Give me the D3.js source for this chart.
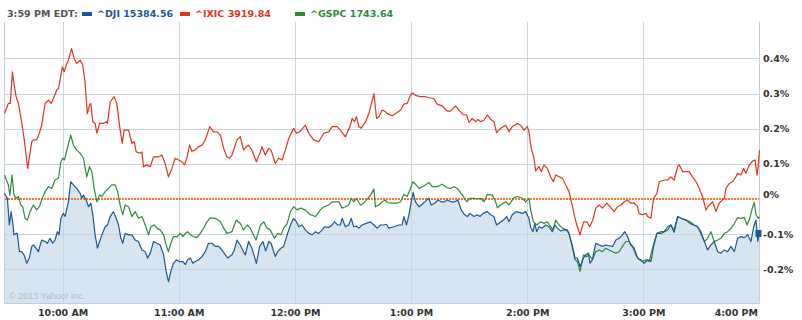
<!DOCTYPE html>
<html>
<head>
<meta charset="utf-8">
<script src="https://cdn.jsdelivr.net/npm/d3@7"></script>
<style>
  body { margin: 0; background: #fff; }
  svg { display: block; }
</style>
</head>
<body>
<svg id="chart"></svg>
<script>
// minutes after 9:30 AM, % change from previous close
const dji = [[0,0.016],[1.5,0.002],[2.5,-0.074],[3.4,-0.036],[4.2,-0.065],[4.9,-0.102],[6.0,-0.098],[6.6,-0.098],[7.7,-0.150],[8.9,-0.150],[10.1,-0.159],[11.5,-0.183],[12.8,-0.168],[14.1,-0.135],[14.9,-0.131],[16.3,-0.140],[17.5,-0.150],[19.2,-0.117],[21.0,-0.121],[22.2,-0.126],[23.5,-0.112],[24.9,-0.126],[26.1,-0.117],[27.3,-0.093],[28.2,-0.102],[29.1,-0.055],[30.4,-0.041],[31.3,-0.050],[33.0,-0.008],[34.2,0.049],[35.6,0.040],[37.3,0.030],[39.1,0.016],[39.9,0.002],[40.8,0.011],[42.2,-0.003],[43.4,-0.022],[44.6,-0.012],[45.6,-0.045],[46.8,-0.102],[48.0,-0.140],[49.1,-0.121],[50.3,-0.102],[52.0,-0.079],[53.2,-0.074],[54.6,-0.050],[56.3,-0.036],[57.7,-0.055],[58.9,-0.074],[60.1,-0.112],[61.1,-0.126],[62.3,-0.098],[64.1,-0.102],[65.8,-0.102],[67.5,-0.117],[69.2,-0.121],[71.0,-0.145],[72.7,-0.150],[73.9,-0.168],[75.3,-0.154],[77.0,-0.121],[78.7,-0.126],[80.4,-0.131],[82.2,-0.159],[83.5,-0.206],[84.7,-0.235],[85.9,-0.206],[87.3,-0.183],[88.7,-0.173],[90.4,-0.178],[92.2,-0.178],[93.4,-0.187],[94.6,-0.173],[96.0,-0.168],[97.3,-0.183],[98.5,-0.178],
  [100.3,-0.173],[102.0,-0.164],[103.7,-0.150],[105.4,-0.126],[107.2,-0.126],[108.9,-0.135],[110.6,-0.135],[112.3,-0.145],[114.1,-0.159],[115.3,-0.168],[117.5,-0.159],[118.7,-0.145],[120.1,-0.117],[121.8,-0.131],[123.5,-0.150],[124.4,-0.159],[126.1,-0.121],[127.8,-0.140],[130.1,-0.183],[131.8,-0.135],[133.5,-0.121],[134.9,-0.148],[136.5,-0.121],[137.7,-0.126],[139.9,-0.164],[141.1,-0.150],[142.8,-0.140],[144.2,-0.135],[146.0,-0.102],[147.7,-0.074],[149.4,-0.055],[150.8,-0.065],[152.0,-0.079],[153.7,-0.074],[155.4,-0.088],[157.2,-0.098],[158.9,-0.102],[160.6,-0.093],[162.3,-0.098],[164.1,-0.088],[165.3,-0.079],[167.5,-0.081],[169.2,-0.074],[170.4,-0.065],[172.2,-0.074],[173.5,-0.074],[174.4,-0.055],[176.1,-0.079],[177.8,-0.074],[179.1,-0.055],[180.4,-0.079],[181.8,-0.077],[183.0,-0.083],[184.7,-0.074],[186.5,-0.070],[189.1,-0.065],[190.8,-0.074],[192.5,-0.083],[194.2,-0.074],[196.0,-0.074],
  [197.3,-0.072],[198.5,-0.083],[201.1,-0.079],[203.7,-0.074],[205.4,-0.074],[206.3,-0.050],[207.7,-0.074],[208.9,-0.045],[210.1,-0.008],[211.1,0.019],[212.3,-0.008],[214.1,-0.022],[215.8,-0.015],[217.5,-0.006],[219.2,0.002],[220.4,-0.017],[222.2,-0.012],[223.9,-0.003],[225.6,-0.008],[227.3,-0.008],[228.7,-0.003],[230.8,-0.008],[232.5,-0.008],[234.2,-0.003],[235.9,-0.031],[237.7,-0.045],[239.1,-0.050],[240.4,-0.041],[242.5,-0.050],[244.2,-0.045],[245.6,-0.050],[247.3,-0.041],[249.4,-0.036],[251.1,-0.045],[252.8,-0.050],[254.2,-0.074],[255.9,-0.067],[257.7,-0.060],[259.4,-0.050],[260.6,-0.065],[262.3,-0.045],[264.1,-0.036],[265.8,-0.038],[267.5,-0.041],[269.2,-0.036],[270.9,-0.055],[271.8,-0.081],[273.0,-0.093],[273.9,-0.070],[274.9,-0.093],[276.1,-0.079],[277.8,-0.083],[279.6,-0.074],[281.3,-0.079],[283.0,-0.093],[284.2,-0.074],[285.6,-0.083],[287.3,-0.091],[289.1,-0.088],[290.8,-0.088],[291.6,-0.098],[293.4,-0.135],[294.7,-0.168],
  [295.9,-0.168],[297.3,-0.192],[299.1,-0.168],[300.3,-0.159],[301.5,-0.154],[302.5,-0.183],[303.7,-0.173],[305.4,-0.126],[307.2,-0.131],[308.9,-0.135],[310.6,-0.131],[312.3,-0.133],[314.1,-0.135],[315.8,-0.117],[317.5,-0.112],[319.2,-0.102],[320.4,-0.093],[321.8,-0.107],[323.5,-0.131],[325.3,-0.140],[327.0,-0.168],[328.7,-0.173],[330.4,-0.183],[332.2,-0.173],[333.9,-0.178],[335.3,-0.135],[337.0,-0.098],[339.1,-0.098],[340.8,-0.093],[342.5,-0.088],[344.2,-0.074],[345.9,-0.095],[347.7,-0.050],[349.4,-0.055],[352.0,-0.060],[354.2,-0.070],[356.0,-0.074],[358.0,-0.079],[359.7,-0.093],[361.5,-0.121],[363.2,-0.145],[364.9,-0.131],[366.6,-0.121],[368.4,-0.150],[370.1,-0.154],[371.8,-0.145],[373.5,-0.150],[375.3,-0.135],[377.0,-0.150],[378.7,-0.112],[380.4,-0.107],[382.2,-0.110],[383.9,-0.102],[385.6,-0.121],[387.0,-0.079],[388.2,-0.060],[389.1,-0.121],[389.9,-0.095],[390,-0.098]];

const ixic = [[0,0.243],[2.0,0.272],[3.0,0.272],[4.1,0.362],[4.6,0.338],[6.0,0.291],[7.2,0.272],[9.1,0.210],[10.1,0.172],[12.0,0.087],[14.1,0.163],[14.9,0.168],[16.6,0.168],[18.0,0.187],[19.2,0.210],[21.0,0.272],[22.7,0.281],[24.1,0.272],[25.3,0.286],[27.0,0.310],[27.9,0.314],[29.9,0.376],[30.8,0.362],[32.2,0.385],[33.0,0.395],[34.6,0.428],[36.0,0.400],[37.3,0.385],[39.1,0.395],[40.4,0.381],[41.6,0.333],[42.8,0.243],[43.9,0.267],[44.6,0.272],[45.6,0.220],[46.8,0.215],[47.7,0.187],[49.1,0.215],[51.1,0.215],[52.5,0.220],[53.2,0.215],[54.6,0.276],[56.6,0.291],[58.0,0.272],[59.4,0.210],[60.8,0.158],[61.8,0.196],[64.1,0.196],[65.8,0.158],[67.0,0.163],[68.0,0.134],[70.1,0.130],[71.0,0.134],[71.8,0.092],[73.5,0.097],[75.3,0.092],[77.0,0.120],[79.6,0.120],[81.3,0.125],[83.0,0.101],[84.7,0.063],[86.5,0.087],[88.2,0.116],[89.9,0.111],[91.6,0.106],[93.0,0.097],[94.2,0.116],[95.6,0.153],[96.8,0.136],[98.5,0.139],
  [100.3,0.149],[102.0,0.153],[103.7,0.168],[106.0,0.206],[108.0,0.191],[109.7,0.191],[111.5,0.182],[113.2,0.144],[114.9,0.120],[116.3,0.116],[117.5,0.125],[120.1,0.168],[121.8,0.177],[123.5,0.139],[124.9,0.149],[126.1,0.153],[127.8,0.139],[130.1,0.106],[132.2,0.134],[133.0,0.149],[134.7,0.125],[136.5,0.144],[137.7,0.139],[139.9,0.101],[141.6,0.116],[143.4,0.111],[145.1,0.139],[146.8,0.172],[149.4,0.201],[150.8,0.187],[152.5,0.191],[155.4,0.210],[157.2,0.187],[159.7,0.168],[162.3,0.163],[164.9,0.187],[167.5,0.191],[169.2,0.206],[171.8,0.206],[173.5,0.196],[176.1,0.177],[178.7,0.210],[179.6,0.229],[180.8,0.220],[181.8,0.234],[183.0,0.206],[184.2,0.201],[186.5,0.220],[188.2,0.243],[189.1,0.262],[190.8,0.300],[192.2,0.229],[193.4,0.234],[195.1,0.253],[196.8,0.248],
  [197.7,0.243],[200.3,0.237],[202.8,0.246],[204.6,0.253],[206.3,0.270],[208.0,0.272],[209.7,0.295],[210.6,0.302],[212.3,0.295],[214.9,0.291],[217.5,0.291],[219.2,0.288],[221.8,0.286],[223.5,0.270],[226.1,0.265],[228.7,0.250],[230.4,0.250],[233.0,0.265],[234.7,0.253],[237.0,0.240],[238.7,0.239],[239.9,0.218],[241.6,0.229],[243.4,0.220],[244.6,0.226],[245.9,0.220],[247.7,0.224],[249.4,0.239],[251.1,0.227],[252.8,0.220],[254.2,0.189],[256.3,0.201],[258.9,0.210],[260.6,0.191],[262.3,0.206],[264.9,0.215],[266.6,0.210],[268.4,0.196],[270.1,0.206],[270.9,0.191],[272.1,0.144],[273.5,0.116],[274.4,0.080],[276.1,0.092],[277.3,0.078],[278.7,0.097],[280.4,0.087],[282.1,0.063],[283.5,0.049],[284.7,0.068],[286.5,0.063],[288.2,0.059],[289.9,0.040],[291.6,0.021],[293.4,-0.022],[294.7,-0.055],
  [295.9,-0.079],[297.3,-0.102],[299.1,-0.065],[300.8,-0.065],[302.2,-0.079],[303.9,-0.060],[305.4,-0.026],[307.2,-0.017],[308.9,-0.026],[311.1,-0.012],[312.8,-0.022],[314.9,-0.036],[316.6,-0.022],[318.4,-0.017],[320.1,-0.008],[321.8,-0.003],[323.5,-0.012],[325.3,-0.012],[327.0,-0.022],[327.8,-0.041],[329.6,-0.045],[331.3,-0.041],[332.2,-0.050],[333.9,-0.055],[335.3,0.002],[337.0,0.016],[338.2,0.049],[340.8,0.054],[342.5,0.054],[344.2,0.063],[345.9,0.054],[347.7,0.092],[348.5,0.097],[350.3,0.078],[352.0,0.078],[353.7,0.078],[355.4,0.063],[357.2,0.049],[358.9,0.030],[360.6,0.007],[362.3,-0.031],[364.0,-0.017],[365.8,-0.008],[367.5,-0.036],[369.2,-0.012],[371.8,0.002],[372.7,0.030],[374.4,0.044],[376.1,0.049],[377.8,0.063],[378.7,0.073],[380.4,0.068],[381.8,0.087],[383.0,0.073],[384.7,0.097],[386.5,0.108],[387.7,0.111],[388.7,0.068],[389.3,0.092],[390,0.139]];

const gspc = [[0,0.068],[2.0,0.040],[2.8,0.011],[3.9,0.068],[4.9,0.011],[6.0,0.002],[7.2,0.007],[8.4,-0.017],[9.4,-0.022],[10.6,-0.055],[11.8,-0.060],[13.2,-0.036],[14.9,-0.017],[16.6,-0.031],[18.0,-0.022],[19.2,-0.003],[21.0,0.021],[22.7,0.035],[24.4,0.030],[26.1,0.054],[27.9,0.059],[29.1,0.106],[30.1,0.116],[31.0,0.111],[32.2,0.139],[34.2,0.182],[35.6,0.153],[37.3,0.139],[39.1,0.130],[40.8,0.116],[42.5,0.063],[43.9,0.092],[45.1,0.078],[46.3,0.030],[47.7,-0.008],[49.1,0.011],[50.3,0.007],[52.0,0.021],[53.7,0.030],[55.4,0.040],[57.2,0.040],[58.4,0.021],[59.7,-0.017],[61.1,-0.045],[62.3,-0.017],[64.1,-0.022],[65.8,-0.050],[67.5,-0.036],[69.2,-0.055],[71.0,-0.050],[72.7,-0.074],[74.4,-0.102],[75.6,-0.079],[77.3,-0.074],[78.7,-0.083],[80.4,-0.088],[82.2,-0.102],[83.5,-0.131],[84.7,-0.150],[85.9,-0.126],[87.3,-0.107],[89.1,-0.107],[90.8,-0.098],[92.2,-0.107],[93.4,-0.098],[94.6,-0.093],[96.0,-0.102],[97.7,-0.107],
  [99.4,-0.110],[101.1,-0.098],[102.9,-0.083],[104.6,-0.065],[106.3,-0.054],[108.9,-0.055],[111.5,-0.065],[113.2,-0.083],[114.9,-0.098],[117.5,-0.093],[119.7,-0.060],[121.8,-0.070],[123.5,-0.088],[125.3,-0.074],[127.0,-0.083],[129.9,-0.117],[132.2,-0.074],[133.9,-0.065],[135.6,-0.083],[137.3,-0.088],[139.4,-0.112],[141.1,-0.098],[142.8,-0.102],[144.2,-0.083],[146.0,-0.070],[147.7,-0.036],[149.4,-0.022],[151.1,-0.031],[152.9,-0.026],[155.4,-0.031],[158.0,-0.045],[160.6,-0.050],[163.2,-0.031],[164.9,-0.022],[167.5,-0.017],[169.2,-0.008],[171.0,-0.008],[172.7,-0.008],[174.4,-0.026],[176.1,-0.022],[177.8,-0.017],[179.1,0.002],[180.4,-0.008],[181.8,0.002],[183.9,-0.017],[185.6,-0.012],[187.7,0.002],[189.1,0.011],[190.8,0.028],[191.6,-0.022],[193.4,-0.017],[195.1,-0.008],[196.8,-0.003],
  [197.7,-0.010],[200.3,-0.012],[202.8,-0.012],[204.6,-0.008],[206.3,0.013],[208.0,0.007],[209.7,0.030],[210.9,0.049],[212.3,0.042],[214.1,0.030],[215.8,0.035],[217.5,0.040],[219.2,0.047],[220.9,0.035],[223.5,0.035],[226.1,0.042],[228.7,0.032],[230.4,0.030],[232.2,0.035],[233.9,0.030],[236.5,0.011],[238.7,-0.008],[240.4,0.002],[242.5,0.002],[244.2,0.000],[245.9,0.002],[247.7,-0.008],[249.4,0.013],[252.0,0.011],[253.7,-0.008],[254.6,-0.025],[256.3,-0.017],[258.9,-0.008],[260.6,-0.017],[263.2,0.004],[264.9,0.007],[267.5,0.002],[269.2,-0.008],[270.9,0.002],[271.8,-0.031],[273.2,-0.065],[274.9,-0.074],[277.0,-0.065],[278.7,-0.070],[280.4,-0.065],[282.1,-0.079],[283.5,-0.088],[284.7,-0.060],[286.5,-0.074],[288.2,-0.083],[289.9,-0.088],[291.6,-0.098],[293.4,-0.140],[294.7,-0.173],
  [295.9,-0.178],[297.3,-0.206],[299.1,-0.159],[300.8,-0.164],[302.0,-0.159],[303.7,-0.173],[305.4,-0.150],[307.2,-0.145],[308.9,-0.150],[310.6,-0.140],[312.3,-0.145],[314.1,-0.150],[315.8,-0.154],[317.5,-0.150],[319.2,-0.135],[320.9,-0.121],[322.7,-0.121],[324.4,-0.135],[326.1,-0.159],[327.8,-0.173],[329.6,-0.178],[331.3,-0.173],[333.0,-0.178],[334.7,-0.140],[337.0,-0.098],[339.1,-0.093],[340.8,-0.093],[342.5,-0.079],[344.2,-0.074],[345.9,-0.088],[347.7,-0.050],[349.4,-0.055],[352.0,-0.060],[354.2,-0.065],[356.3,-0.074],[358.0,-0.079],[359.7,-0.098],[361.5,-0.121],[363.2,-0.112],[364.9,-0.093],[366.6,-0.121],[368.4,-0.117],[370.1,-0.112],[371.8,-0.098],[373.5,-0.093],[375.3,-0.083],[377.0,-0.070],[378.7,-0.053],[380.4,-0.055],[382.2,-0.053],[383.5,-0.074],[384.7,-0.060],[386.5,-0.022],[387.3,-0.010],[388.2,-0.045],[389.4,-0.055],[390,-0.050]];

const xTickMinutes = [30, 90, 150, 210, 270, 330, 390];
const xTickLabels = ['10:00 AM', '11:00 AM', '12:00 PM', '1:00 PM', '2:00 PM', '3:00 PM', '4:00 PM'];
const yTickValues = [0.4, 0.3, 0.2, 0.1, 0, -0.1, -0.2];
const yTickLabels = ['0.4%', '0.3%', '0.2%', '0.1%', '0%', '-0.1%', '-0.2%'];
const legendNames = ['^DJI 15384.56', '^IXIC 3919.84', '^GSPC 1743.64'];
const timeStamp = '3:59 PM EDT:';

let width = 802, height = 320;
let margin = {top: 22, right: 42.5, bottom: 17, left: 4.5};
let colors = {dji: '#1f5794', ixic: '#e2331f', gspc: '#2e8b3c'};
let font = '"DejaVu Sans", Verdana, sans-serif';

let svg = d3.select('#chart')
    .attr('width', width)
    .attr('height', height);

let xScale = d3.scaleLinear()
    .domain([0, 390])
    .range([margin.left, width - margin.right]);

let yScale = d3.scaleLinear()
    .domain([-0.296, 0.5036])
    .range([height - margin.bottom, margin.top]);

let plotTop = margin.top, plotBottom = height - margin.bottom;

// area under the Dow
let area = d3.area()
    .x(function (d) { return xScale(d[0]); })
    .y0(plotBottom)
    .y1(function (d) { return yScale(d[1]); });

svg.append('path')
    .datum(dji)
    .attr('d', area)
    .attr('fill', '#d6e5f0');

// grid
svg.append('g')
    .selectAll('line')
    .data(yTickValues.filter(function (d) { return d !== 0; }))
    .enter()
    .append('line')
    .attr('x1', margin.left)
    .attr('x2', width - margin.right)
    .attr('y1', function (d) { return Math.round(yScale(d)) + 0.5; })
    .attr('y2', function (d) { return Math.round(yScale(d)) + 0.5; })
    .attr('stroke', '#c6d4de')
    .attr('stroke-width', 1);

svg.append('g')
    .selectAll('line')
    .data(xTickMinutes.slice(0, -1))
    .enter()
    .append('line')
    .attr('x1', function (d) { return Math.round(xScale(d)) + 0.5; })
    .attr('x2', function (d) { return Math.round(xScale(d)) + 0.5; })
    .attr('y1', plotTop)
    .attr('y2', plotBottom)
    .attr('stroke', '#c6d4de')
    .attr('stroke-width', 1);

// frame: left, bottom, right
svg.append('path')
    .attr('d', 'M' + margin.left + ',' + plotTop + 'V' + (plotBottom + 0.5) + 'H' + (width - margin.right) + 'V' + plotTop)
    .attr('fill', 'none')
    .attr('stroke', '#c0ced9')
    .attr('stroke-width', 1);

// previous close, dotted
svg.append('line')
    .attr('x1', Math.ceil(margin.left))
    .attr('x2', Math.floor(width - margin.right))
    .attr('y1', Math.round(yScale(0)))
    .attr('y2', Math.round(yScale(0)))
    .attr('stroke', '#f6782c')
    .attr('stroke-width', 2)
    .attr('stroke-dasharray', '2,1');

svg.append('text')
    .attr('x', 9)
    .attr('y', 299)
    .attr('font-family', '"Liberation Sans", Arial, sans-serif')
    .attr('font-size', 9)
    .attr('fill', '#adbccb')
    .text('\u00a9 2013 Yahoo! Inc.');

let line = d3.line()
    .x(function (d) { return xScale(d[0]); })
    .y(function (d) { return yScale(d[1]); });

[[ixic, colors.ixic], [gspc, colors.gspc], [dji, colors.dji]].forEach(function (s) {
    svg.append('path')
        .datum(s[0])
        .attr('d', line)
        .attr('fill', 'none')
        .attr('stroke', s[1])
        .attr('stroke-width', 1.2)
        .attr('stroke-linejoin', 'round');
});

// last value marker for the Dow
let last = dji[dji.length - 1];
svg.append('rect')
    .attr('x', xScale(last[0]) - 4)
    .attr('y', yScale(last[1]) - 3.5)
    .attr('width', 6)
    .attr('height', 7)
    .attr('fill', colors.dji);

// axes
let xAxis = d3.axisBottom(xScale)
    .tickValues(xTickMinutes)
    .tickFormat(function (d, i) { return xTickLabels[i]; })
    .tickSize(0)
    .tickPadding(6);

let gx = svg.append('g')
    .attr('transform', 'translate(0,' + plotBottom + ')')
    .call(xAxis);
gx.select('.domain').remove();
gx.selectAll('text')
    .attr('font-family', font)
    .attr('font-size', 9.5)
    .attr('font-weight', 'bold')
    .attr('fill', '#333');
gx.selectAll('.tick').filter(function (d) { return d === 390; })
    .select('text')
    .attr('text-anchor', 'end')
    .attr('x', -2);

let yAxis = d3.axisRight(yScale)
    .tickValues(yTickValues)
    .tickFormat(function (d, i) { return yTickLabels[i]; })
    .tickSize(0)
    .tickPadding(4);

let gy = svg.append('g')
    .attr('transform', 'translate(' + (width - margin.right - 0.5) + ',0)')
    .call(yAxis);
gy.select('.domain').remove();
gy.selectAll('text')
    .attr('font-family', font)
    .attr('font-size', 9.5)
    .attr('font-weight', 'bold')
    .attr('fill', '#333');
// the 0% label sits a little above the previous-close line
gy.selectAll('.tick').filter(function (d) { return d === 0; })
    .select('text')
    .attr('y', -5);

// header legend
svg.append('text')
    .attr('x', 7)
    .attr('y', 17)
    .attr('font-family', font)
    .attr('font-size', 9.5)
    .attr('font-weight', 'bold')
    .attr('fill', '#555')
    .text(timeStamp);

let legendX = [82, 180, 295];
let legendColors = [colors.dji, colors.ixic, colors.gspc];
legendNames.forEach(function (name, i) {
    svg.append('rect')
        .attr('x', legendX[i])
        .attr('y', 12)
        .attr('width', 10)
        .attr('height', 4)
        .attr('fill', legendColors[i]);
    svg.append('text')
        .attr('x', legendX[i] + 15)
        .attr('y', 17)
        .attr('font-family', font)
        .attr('font-size', 9.5)
        .attr('font-weight', 'bold')
        .attr('fill', legendColors[i])
        .text(name);
});
</script>
</body>
</html>
